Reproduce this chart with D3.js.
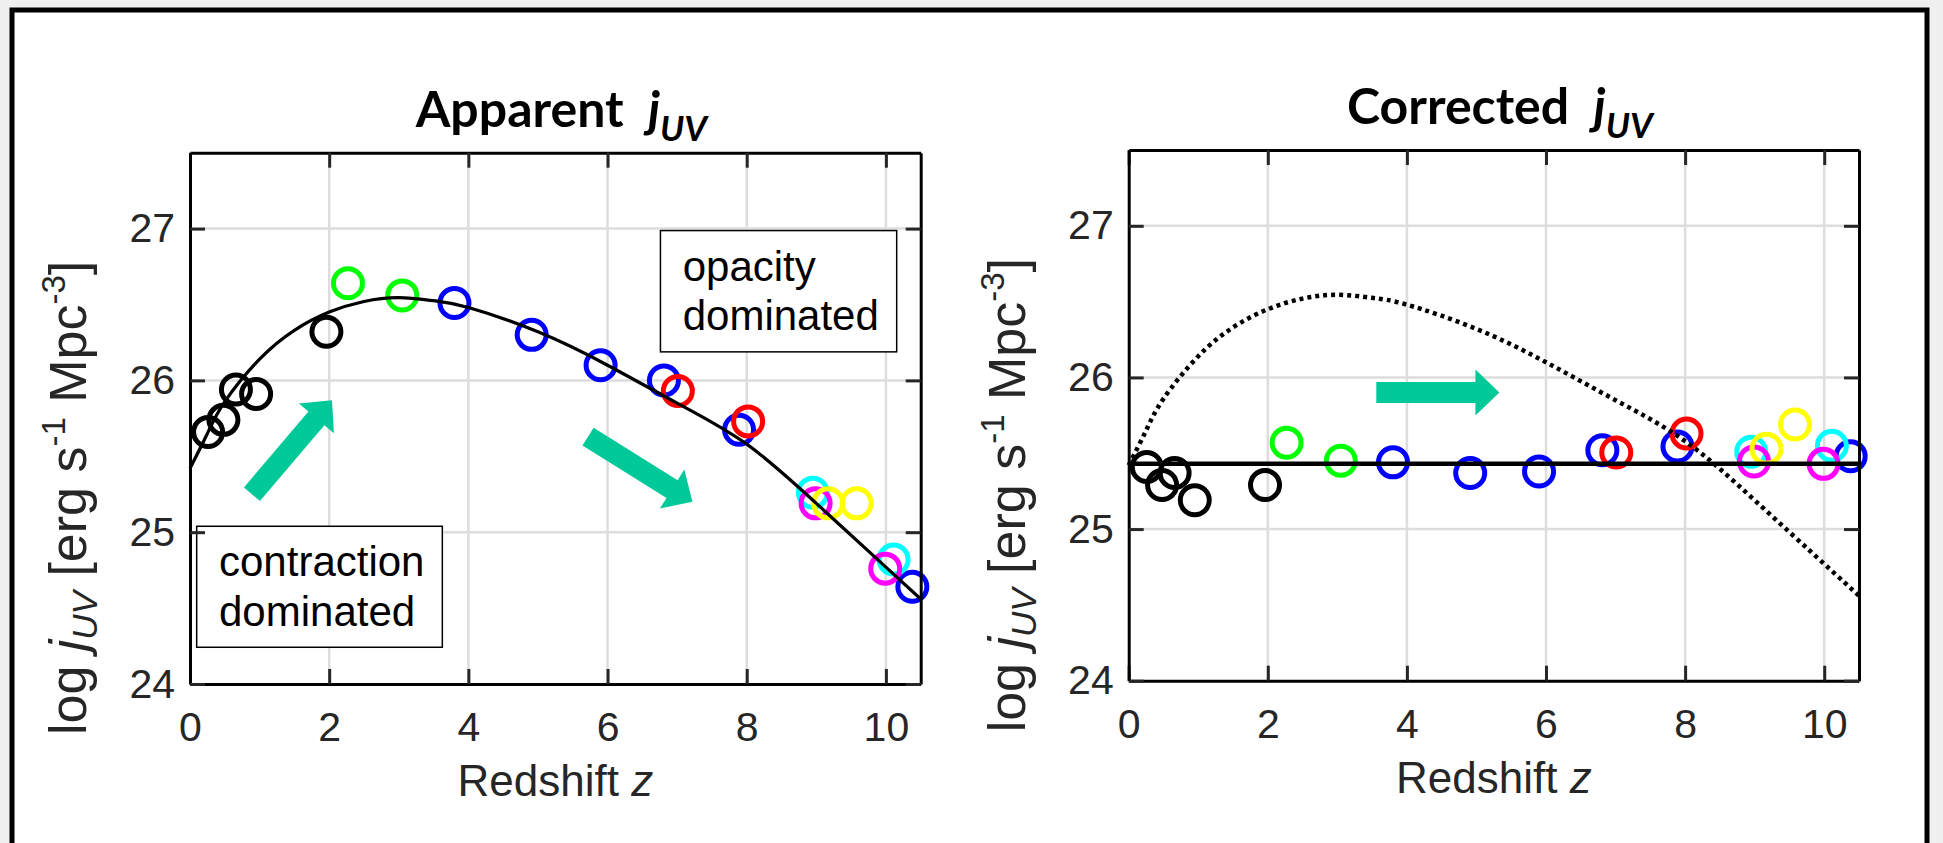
<!DOCTYPE html>
<html>
<head>
<meta charset="utf-8">
<script src="https://cdn.jsdelivr.net/npm/d3@7"></script>
<style>
  body { margin: 0; background: #f0f0f0; }
</style>
</head>
<body>
<div id="chart"></div>
<script>
// redshift of each measurement, grouped by marker colour
var zBlack   = [0.26, 0.48, 0.66, 0.95, 1.96];
var zGreen   = [2.27, 3.05];
var zBlue    = [3.80, 4.91, 5.90, 6.81, 7.89, 10.38];
var zRed     = [7.01, 8.02];
var zCyan    = [8.95, 10.11];
var zMagenta = [8.99, 9.99];
var zYellow  = [9.17, 9.58];

// apparent log j_UV (left panel)
var appBlack   = [25.66, 25.74, 25.94, 25.91, 26.32];
var appGreen   = [26.64, 26.56];
var appBlue    = [26.51, 26.30, 26.10, 26.00, 25.675, 24.64];
var appRed     = [25.93, 25.73];
var appCyan    = [25.26, 24.82];
var appMagenta = [25.19, 24.76];
var appYellow  = [25.19, 25.19];

// corrected log j_UV (right panel)
var corrBlack   = [25.41, 25.29, 25.37, 25.19, 25.29];
var corrGreen   = [25.57, 25.45];
var corrBlue    = [25.44, 25.37, 25.38, 25.52, 25.545, 25.48];
var corrRed     = [25.505, 25.63];
var corrCyan    = [25.51, 25.55];
var corrMagenta = [25.445, 25.43];
var corrYellow  = [25.53, 25.69];

// model curve
var curveZ = [0, 0.25, 0.5, 1, 1.5, 2, 2.5, 3, 3.5, 4, 5, 6, 7, 8, 9, 10, 10.5];
var curveJ = [25.42, 25.65, 25.86, 26.14, 26.33, 26.45, 26.52, 26.545, 26.525, 26.48, 26.32, 26.10, 25.85, 25.58, 25.19, 24.77, 24.56];

// constant level of the corrected density
var flatLevel = 25.43;

var xTicks = [0, 2, 4, 6, 8, 10];
var yTicks = [24, 25, 26, 27];

var W = 1943, H = 843;
var axisColor = "#262626";
var arial = "'Liberation Sans', Arial, sans-serif";

var svg = d3.select("#chart").append("svg")
    .attr("width", W)
    .attr("height", H);

// white sheet with a black frame
svg.append("rect")
    .attr("x", 12).attr("y", 10)
    .attr("width", 1915).attr("height", 860)
    .attr("fill", "#fff")
    .attr("stroke", "#000")
    .attr("stroke-width", 5);

var groups = [
    { color: "#000000", z: zBlack,   app: appBlack,   corr: corrBlack },
    { color: "#00ff00", z: zGreen,   app: appGreen,   corr: corrGreen },
    { color: "#0000ff", z: zBlue,    app: appBlue,    corr: corrBlue },
    { color: "#ff0000", z: zRed,     app: appRed,     corr: corrRed },
    { color: "#00ffff", z: zCyan,    app: appCyan,    corr: corrCyan },
    { color: "#ff00ff", z: zMagenta, app: appMagenta, corr: corrMagenta },
    { color: "#ffff00", z: zYellow,  app: appYellow,  corr: corrYellow }
];

function arrowPath(x1, y1, x2, y2, shaftW, headW, headL) {
    var dx = x2 - x1, dy = y2 - y1;
    var len = Math.sqrt(dx * dx + dy * dy);
    var ux = dx / len, uy = dy / len;
    var nx = -uy, ny = ux;
    var bx = x2 - ux * headL, by = y2 - uy * headL;
    var pts = [
        [x1 + nx * shaftW / 2, y1 + ny * shaftW / 2],
        [bx + nx * shaftW / 2, by + ny * shaftW / 2],
        [bx + nx * headW / 2, by + ny * headW / 2],
        [x2, y2],
        [bx - nx * headW / 2, by - ny * headW / 2],
        [bx - nx * shaftW / 2, by - ny * shaftW / 2],
        [x1 - nx * shaftW / 2, y1 - ny * shaftW / 2]
    ];
    return "M" + pts.map(function(p) { return p[0] + "," + p[1]; }).join("L") + "Z";
}

function drawPanel(p) {
    var x = d3.scaleLinear().domain([0, 10.5]).range([p.left, p.right]);
    var y = d3.scaleLinear().domain([24, 27.5]).range([p.bottom, p.top]);
    var g = svg.append("g");

    // grid
    g.selectAll(".gx").data(xTicks.slice(1)).enter().append("line")
        .attr("x1", function(d) { return x(d); })
        .attr("x2", function(d) { return x(d); })
        .attr("y1", p.top).attr("y2", p.bottom)
        .attr("stroke", "#dddddd").attr("stroke-width", 2.5);
    g.selectAll(".gy").data(yTicks.slice(1)).enter().append("line")
        .attr("y1", function(d) { return y(d); })
        .attr("y2", function(d) { return y(d); })
        .attr("x1", p.left).attr("x2", p.right)
        .attr("stroke", "#dddddd").attr("stroke-width", 2.5);

    // arrows
    p.arrows.forEach(function(a) {
        g.append("path")
            .attr("d", arrowPath(x(a.z1), y(a.j1), x(a.z2), y(a.j2), 21, 46, 24))
            .attr("fill", "#00c999");
    });

    // text boxes
    p.boxes.forEach(function(b) {
        g.append("rect")
            .attr("x", x(b.z1)).attr("y", y(b.j1))
            .attr("width", x(b.z2) - x(b.z1))
            .attr("height", y(b.j2) - y(b.j1))
            .attr("fill", "#fff")
            .attr("stroke", "#000")
            .attr("stroke-width", 1.5);
        b.lines.forEach(function(t, i) {
            g.append("text")
                .attr("x", x(b.tz))
                .attr("y", y(b.tj[i]))
                .attr("font-family", arial)
                .attr("font-size", 42)
                .attr("fill", "#000")
                .text(t);
        });
    });

    // markers
    groups.forEach(function(grp) {
        var vals = grp[p.key];
        g.selectAll(null).data(grp.z).enter().append("circle")
            .attr("cx", function(d) { return x(d); })
            .attr("cy", function(d, i) { return y(vals[i]); })
            .attr("r", 14.5)
            .attr("fill", "none")
            .attr("stroke", grp.color)
            .attr("stroke-width", 5);
    });

    // lines
    var line = d3.line()
        .x(function(d) { return x(d[0]); })
        .y(function(d) { return y(d[1]); })
        .curve(d3.curveNatural);
    var curvePts = curveZ.map(function(z, i) { return [z, curveJ[i]]; });

    if (p.key === "app") {
        g.append("path").attr("d", line(curvePts))
            .attr("fill", "none").attr("stroke", "#000").attr("stroke-width", 3.2);
    } else {
        g.append("path").attr("d", line(curvePts))
            .attr("fill", "none").attr("stroke", "#000")
            .attr("stroke-width", 4.5).attr("stroke-dasharray", "4,4");
        g.append("line")
            .attr("x1", x(0)).attr("x2", x(10.5))
            .attr("y1", y(flatLevel)).attr("y2", y(flatLevel))
            .attr("stroke", "#000").attr("stroke-width", 4.5);
    }

    // axes with inward ticks
    function styleAxis(sel) {
        sel.selectAll(".domain").attr("stroke", "#000").attr("stroke-width", 3);
        sel.selectAll(".tick line").attr("stroke", axisColor).attr("stroke-width", 3);
        sel.selectAll(".tick text")
            .attr("fill", axisColor)
            .attr("font-family", arial)
            .attr("font-size", 41);
    }
    g.append("g").attr("transform", "translate(0," + p.bottom + ")")
        .call(d3.axisBottom(x).tickValues(xTicks).tickSize(-15).tickSizeOuter(0)
            .tickPadding(28).tickFormat(d3.format("d")))
        .call(styleAxis);
    g.append("g").attr("transform", "translate(0," + p.top + ")")
        .call(d3.axisTop(x).tickValues(xTicks).tickSize(-15).tickSizeOuter(0).tickFormat(""))
        .call(styleAxis);
    g.append("g").attr("transform", "translate(" + p.left + ",0)")
        .call(d3.axisLeft(y).tickValues(yTicks).tickSize(-15).tickSizeOuter(0)
            .tickPadding(15).tickFormat(d3.format("d")))
        .call(styleAxis);
    g.append("g").attr("transform", "translate(" + p.right + ",0)")
        .call(d3.axisRight(y).tickValues(yTicks).tickSize(-15).tickSizeOuter(0).tickFormat(""))
        .call(styleAxis);

    // title
    var cx = (p.left + p.right) / 2 + 6;
    var t = g.append("text")
        .attr("x", cx).attr("y", p.top - 26)
        .attr("text-anchor", "middle")
        .attr("font-family", "Lato, 'Open Sans', sans-serif")
        .attr("font-weight", "bold")
        .attr("font-size", 50)
        .attr("fill", "#000");
    t.append("tspan").text(p.title + "\u00a0\u00a0");
    t.append("tspan").attr("font-style", "italic").text("j");
    t.append("tspan").attr("font-style", "italic").attr("font-size", 35).attr("dy", 14).text("UV");

    // x label
    var xl = g.append("text")
        .attr("x", (p.left + p.right) / 2)
        .attr("y", p.bottom + 112)
        .attr("text-anchor", "middle")
        .attr("font-family", arial)
        .attr("font-size", 44)
        .attr("fill", axisColor);
    xl.append("tspan").text("Redshift ");
    xl.append("tspan").attr("font-style", "italic").text("z");

    // y label
    var yl = g.append("text")
        .attr("transform", "translate(" + (p.left - 104) + "," + (p.top + 108) + ") rotate(-90)")
        .attr("text-anchor", "end")
        .attr("font-family", arial)
        .attr("font-size", 52)
        .attr("fill", axisColor);
    yl.append("tspan").text("log ");
    yl.append("tspan").attr("font-style", "italic").text("j");
    yl.append("tspan").attr("font-style", "italic").attr("font-size", 35).attr("dy", 11).text("UV");
    yl.append("tspan").attr("dy", -11).text(" [erg s");
    yl.append("tspan").attr("font-size", 33).attr("dy", -21).text("-1");
    yl.append("tspan").attr("dy", 21).text(" Mpc");
    yl.append("tspan").attr("font-size", 33).attr("dy", -21).text("-3");
    yl.append("tspan").attr("dy", 21).text("]");
}

drawPanel({
    key: "app", title: "Apparent",
    left: 190, right: 920.7, top: 152.7, bottom: 684,
    arrows: [
        { z1: 0.89, j1: 25.25, z2: 2.04, j2: 25.87 },
        { z1: 5.72, j1: 25.63, z2: 7.22, j2: 25.20 }
    ],
    boxes: [
        { z1: 6.76, j1: 26.987, z2: 10.155, j2: 26.188, tz: 7.08, tj: [26.653, 26.335], lines: ["opacity", "dominated"] },
        { z1: 0.096, j1: 25.039, z2: 3.626, j2: 24.242, tz: 0.417, tj: [24.714, 24.385], lines: ["contraction", "dominated"] }
    ]
});

drawPanel({
    key: "corr", title: "Corrected",
    left: 1128.7, right: 1859, top: 150, bottom: 680.7,
    arrows: [
        { z1: 3.56, j1: 25.90, z2: 5.33, j2: 25.90 }
    ],
    boxes: []
});
</script>
</body>
</html>
